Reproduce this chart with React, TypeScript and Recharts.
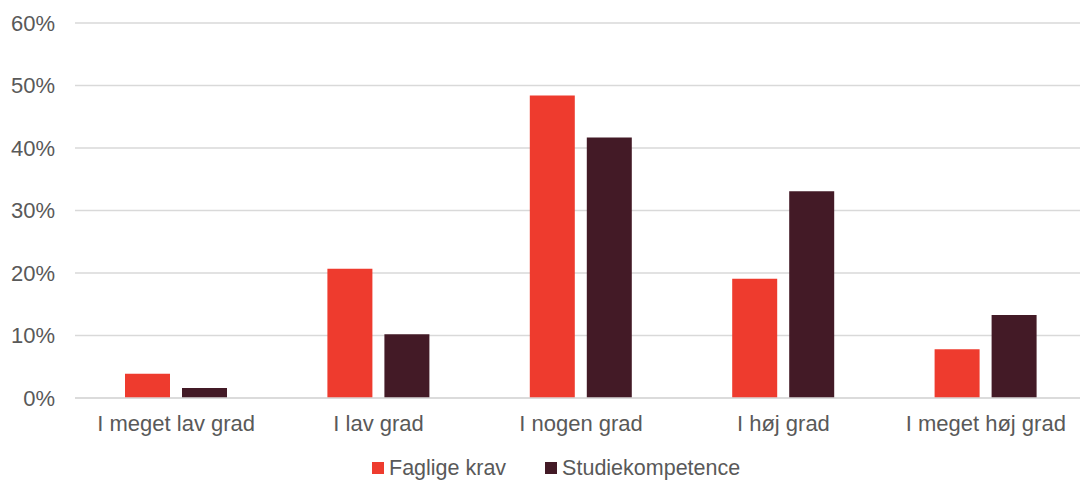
import React from 'react'
import { BarChart, Bar, XAxis, YAxis, CartesianGrid } from 'recharts'

// Degree categories on the x axis
const categories = ['I meget lav grad', 'I lav grad', 'I nogen grad', 'I høj grad', 'I meget høj grad']

// Shares in percent
const fagligeKrav = [3.9, 20.7, 48.4, 19.1, 7.8]
const studiekompetence = [1.6, 10.2, 41.7, 33.1, 13.3]

const yTicks = [0, 10, 20, 30, 40, 50, 60]

const series = [
  { key: 'faglige', name: 'Faglige krav', color: '#EE3B2E' },
  { key: 'studie', name: 'Studiekompetence', color: '#431A26' },
]

const data = categories.map((name, i) => ({
  name,
  faglige: fagligeKrav[i],
  studie: studiekompetence[i],
}))

const FONT = '"Liberation Sans", Arial, sans-serif'
const TEXT = '#595959'

export default function App() {
  return (
    <div
      style={{
        position: 'absolute',
        left: 0,
        top: 0,
        width: 1080,
        height: 485,
        overflow: 'hidden',
        background: '#fff',
        fontFamily: FONT,
      }}
    >
      <BarChart
        width={1088}
        height={485}
        data={data}
        margin={{ top: 23, right: 1, left: 0, bottom: 57 }}
        barSize={45}
        barGap={12}
      >
        <CartesianGrid vertical={false} stroke="#D9D9D9" strokeWidth={1.3} />
        <XAxis
          dataKey="name"
          height={30}
          axisLine={{ stroke: '#D9D9D9', strokeWidth: 1.3 }}
          tickLine={false}
          tickMargin={11}
          tick={{ fill: TEXT, fontSize: 22, fontFamily: FONT }}
          interval={0}
        />
        <YAxis
          width={75}
          domain={[0, 60]}
          ticks={yTicks}
          axisLine={false}
          tickLine={false}
          tickMargin={14}
          tickFormatter={(v) => `${v}%`}
          tick={{ fill: TEXT, fontSize: 22, fontFamily: FONT }}
        />
        {series.map((s) => (
          <Bar key={s.key} dataKey={s.key} name={s.name} fill={s.color} isAnimationActive={false} />
        ))}
      </BarChart>

      {/* Legend below the plot */}
      <div
        style={{
          position: 'absolute',
          left: 372,
          top: 455,
          display: 'flex',
          alignItems: 'center',
          gap: 39,
          fontSize: 21.5,
          color: TEXT,
          lineHeight: '26px',
        }}
      >
        {series.map((s) => (
          <div key={s.key} style={{ display: 'flex', alignItems: 'center' }}>
            <span style={{ width: 12, height: 12, background: s.color, marginRight: 5, display: 'inline-block' }} />
            <span>{s.name}</span>
          </div>
        ))}
      </div>
    </div>
  )
}
